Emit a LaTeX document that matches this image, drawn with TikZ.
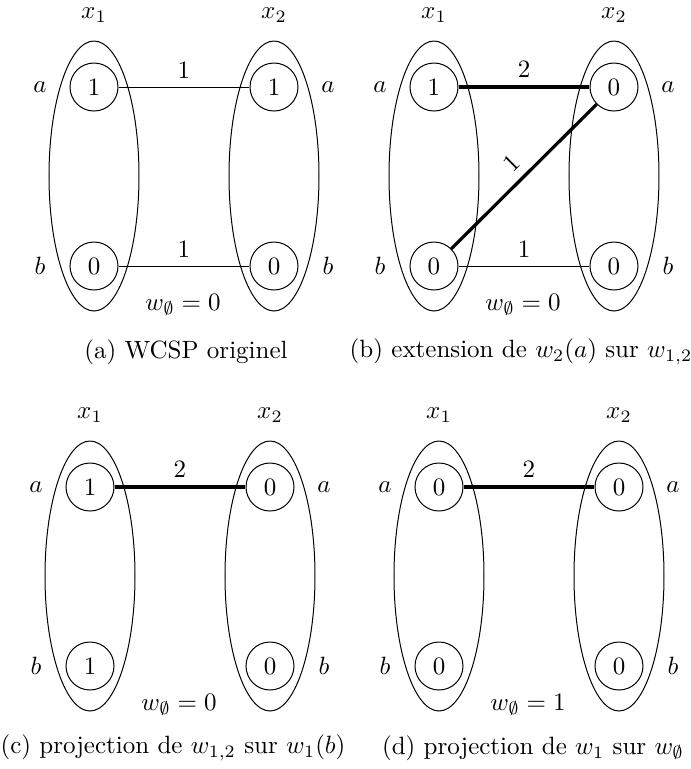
\documentclass[tikz,border=0pt]{standalone}
\usetikzlibrary{shapes.geometric}
\newcommand\wcsppanel[7]{%
  \begin{scope}[shift={#2}]
    \node[dom] (#1-e1) at (94,176) {};
    \node[dom] (#1-e2) at (274,176) {};
    \node[val] (#1-1a) at (94,87) {$#3$};
    \node[val] (#1-1b) at (94,266) {$#4$};
    \node[val] (#1-2a) at (274,87) {$#5$};
    \node[val] (#1-2b) at (274,266) {$#6$};
    \node (#1-x1) at (94,15) {$x_1$};
    \node (#1-x2) at (274,15) {$x_2$};
    \node (#1-la1) at (40,87) {$a$};
    \node (#1-lb1) at (40,266) {$b$};
    \node (#1-la2) at (328,87) {$a$};
    \node (#1-lb2) at (328,266) {$b$};
    \node (#1-w) at (183,305) {$w_\emptyset = #7$};
  \end{scope}}
\begin{document}
\begin{tikzpicture}[x=0.4pt,y=-0.4pt,
  dom/.style={draw,ellipse,minimum width=36pt,minimum height=108pt,inner sep=0pt,line width=0.4pt},
  val/.style={draw,circle,minimum size=19.2pt,inner sep=0pt,line width=0.4pt},
  lightedge/.style={line width=0.4pt},
  heavyedge/.style={line width=1.3pt},
]
\useasboundingbox (0,0) rectangle (691,769);

\wcsppanel{A}{(0,0)}{1}{0}{1}{0}{0}
\draw[lightedge] (A-1a) -- node[above] {$1$} (A-2a);
\draw[lightedge] (A-1b) -- node[above] {$1$} (A-2b);
\node (capA) at (186,352) {(a) WCSP originel};

\wcsppanel{B}{(340,0)}{1}{0}{0}{0}{0}
\draw[heavyedge] (B-1a) -- node[above] {$2$} (B-2a);
\draw[heavyedge] (B-1b) -- node[above,sloped] {$1$} (B-2a);
\draw[lightedge] (B-1b) -- node[above] {$1$} (B-2b);
\node (capB) at (521,352) {(b) extension de $w_2(a)$ sur $w_{1,2}$};

\wcsppanel{C}{(-4,400)}{1}{1}{0}{0}{0}
\draw[heavyedge] (C-1a) -- node[above] {$2$} (C-2a);
\node (capC) at (173,748) {(c) projection de $w_{1,2}$ sur $w_1(b)$};

\wcsppanel{D}{(345,400)}{0}{0}{0}{0}{1}
\draw[heavyedge] (D-1a) -- node[above] {$2$} (D-2a);
\node (capD) at (533,748) {(d) projection de $w_1$ sur $w_\emptyset$};
\end{tikzpicture}
\end{document}
